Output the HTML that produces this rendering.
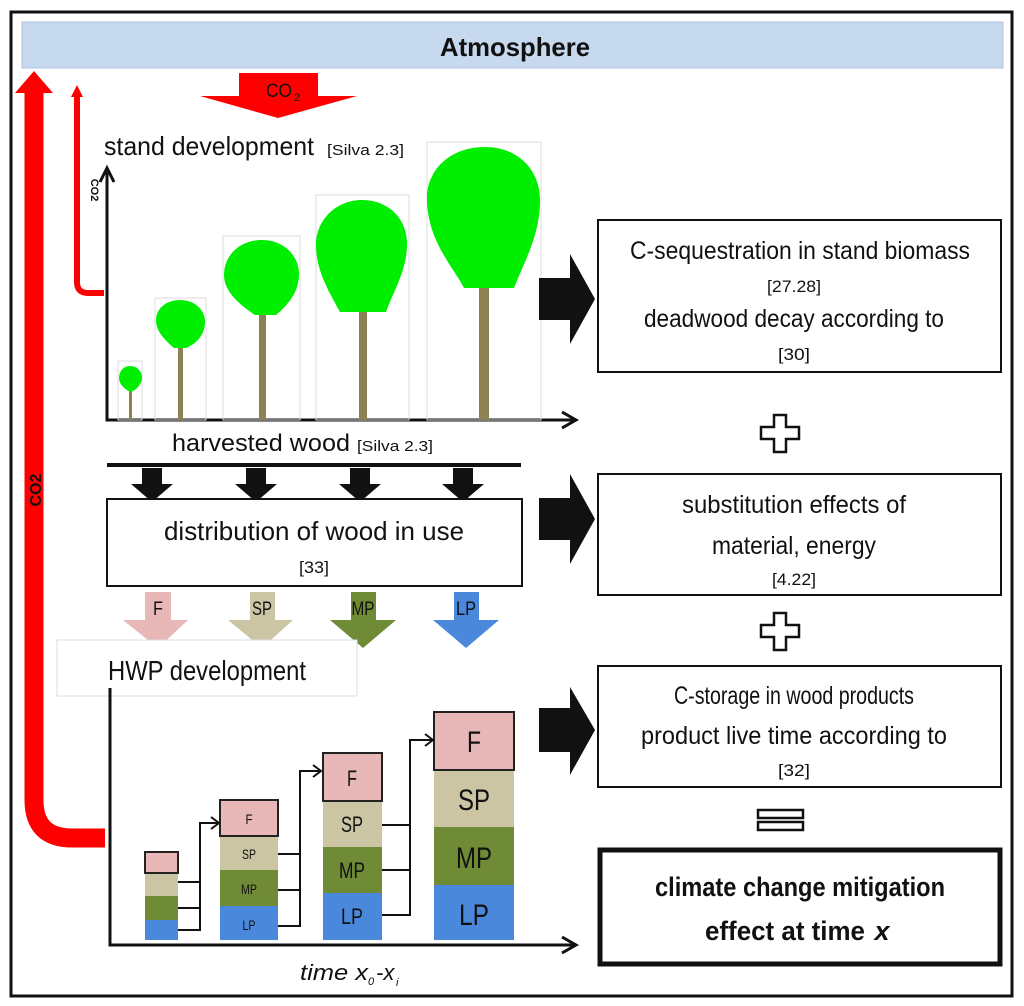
<!DOCTYPE html>
<html><head><meta charset="utf-8"><style>
html,body{margin:0;padding:0;background:#fff;width:1024px;height:1006px;overflow:hidden}
svg{display:block}
text{font-family:"Liberation Sans",sans-serif;fill:#111}
</style></head><body>
<svg width="1024" height="1006" viewBox="0 0 1024 1006" xmlns="http://www.w3.org/2000/svg">
<rect x="11" y="12" width="1001" height="984" fill="#fff" stroke="#111" stroke-width="3"/>
<rect x="22" y="22" width="981" height="46" fill="#c6d9ee" stroke="#b0c4dc" stroke-width="1"/>
<text x="515" y="56" font-size="26" font-weight="bold" text-anchor="middle" textLength="150" lengthAdjust="spacingAndGlyphs">Atmosphere</text>

<polygon points="239,73 318,73 318,96 357,96 278,118 200,96 239,96" fill="#f00"/>
<text x="279" y="97" font-size="19" text-anchor="middle" textLength="26" lengthAdjust="spacingAndGlyphs">CO</text>
<text x="294" y="101" font-size="11">2</text>

<path d="M34,90 V800 Q34,838 72,838 H105" fill="none" stroke="#f00" stroke-width="19"/>
<polygon points="15,93 34,71 53,93" fill="#f00"/>
<text transform="translate(41,490) rotate(-90)" font-size="16" font-weight="bold" text-anchor="middle">CO2</text>

<path d="M77,95 V282 Q77,293 88,293 H104" fill="none" stroke="#f00" stroke-width="6"/>
<polygon points="71,97 77,85 83,97" fill="#f00"/>
<text transform="translate(91,190) rotate(90)" font-size="11" font-weight="bold" text-anchor="middle">CO2</text>

<text x="104" y="155" font-size="26" textLength="210" lengthAdjust="spacingAndGlyphs">stand development</text>
<text x="327" y="155" font-size="15" textLength="77" lengthAdjust="spacingAndGlyphs">[Silva 2.3]</text>
<path d="M107,170 V420 H574" fill="none" stroke="#111" stroke-width="3"/>
<path d="M100,182 L107,168 L114,182" fill="none" stroke="#111" stroke-width="3"/>
<path d="M562,412 L576,420 L562,428" fill="none" stroke="#111" stroke-width="3"/>

<g stroke="#ddd" stroke-width="1" fill="none">
<rect x="118" y="361" width="24" height="59"/>
<rect x="155" y="298" width="51" height="122"/>
<rect x="223" y="236" width="77" height="184"/>
<rect x="316" y="195" width="93" height="225"/>
<rect x="427" y="142" width="114" height="278"/>
</g>
<g fill="#8c8355">
<rect x="129" y="385" width="3" height="35"/>
<rect x="178" y="340" width="5" height="80"/>
<rect x="259" y="310" width="7" height="110"/>
<rect x="359" y="300" width="8" height="120"/>
<rect x="479" y="280" width="10" height="140"/>
</g>
<g fill="#00ee00">
<path d="M130,366 C138,366 142,372 142,378 C142,384 136,390 131,392 C125,390 119,384 119,378 C119,372 123,366 130,366Z"/>
<path d="M180,300 C195,300 205,310 205,322 C205,335 196,344 186,348 L174,348 C165,340 156,332 156,320 C156,308 167,300 180,300Z"/>
<path d="M262,240 C284,240 299,256 299,274 C299,292 288,305 276,315 L255,315 C240,305 224,292 224,275 C224,255 240,240 262,240Z"/>
<path d="M362,200 C388,200 407,218 407,244 C407,270 394,290 386,312 L340,312 C328,290 316,270 316,245 C316,220 336,200 362,200Z"/>
<path d="M485,147 C518,147 540,170 540,200 C540,235 525,260 514,288 L464,288 C452,265 427,240 427,198 C427,170 450,147 485,147Z"/>
</g>

<text x="172" y="451" font-size="24" textLength="178" lengthAdjust="spacingAndGlyphs">harvested wood</text>
<text x="357" y="451" font-size="15" textLength="76" lengthAdjust="spacingAndGlyphs">[Silva 2.3]</text>
<line x1="107" y1="465" x2="521" y2="465" stroke="#111" stroke-width="4"/>
<g fill="#111">
<polygon points="142,468 162,468 162,484 173,484 152,502 131,484 142,484"/>
<polygon points="246,468 266,468 266,484 277,484 256,502 235,484 246,484"/>
<polygon points="350,468 370,468 370,484 381,484 360,502 339,484 350,484"/>
<polygon points="453,468 473,468 473,484 484,484 463,502 442,484 453,484"/>
</g>
<rect x="107" y="499" width="415" height="87" fill="#fff" stroke="#111" stroke-width="2"/>
<text x="314" y="540" font-size="26" text-anchor="middle" textLength="300" lengthAdjust="spacingAndGlyphs">distribution of wood in use</text>
<text x="314" y="573" font-size="17" text-anchor="middle" textLength="30" lengthAdjust="spacingAndGlyphs">[33]</text>

<polygon points="145,592 171,592 171,620 188,620 158,648 123,620 145,620" fill="#e8b7b7"/>
<polygon points="250,592 275,592 275,620 293,620 262,648 228,620 250,620" fill="#cbc5a3"/>
<polygon points="351,592 376,592 376,620 396,620 363,648 330,620 351,620" fill="#6f8b35"/>
<polygon points="454,592 479,592 479,620 499,620 466,648 433,620 454,620" fill="#4a88dc"/>
<text x="158" y="615" font-size="19" text-anchor="middle" textLength="10" lengthAdjust="spacingAndGlyphs">F</text>
<text x="262" y="615" font-size="19" text-anchor="middle" textLength="20" lengthAdjust="spacingAndGlyphs">SP</text>
<text x="363" y="615" font-size="19" text-anchor="middle" textLength="23" lengthAdjust="spacingAndGlyphs">MP</text>
<text x="466" y="615" font-size="19" text-anchor="middle" textLength="20" lengthAdjust="spacingAndGlyphs">LP</text>

<rect x="57" y="640" width="300" height="56" fill="#fff" stroke="#ddd" stroke-width="1"/>
<text x="108" y="680" font-size="28" textLength="198" lengthAdjust="spacingAndGlyphs">HWP development</text>
<path d="M110,688 V945 H574" fill="none" stroke="#111" stroke-width="3"/>
<path d="M562,937 L576,945 L562,953" fill="none" stroke="#111" stroke-width="3"/>

<rect x="145" y="873" width="33" height="23" fill="#cbc5a3"/>
<rect x="145" y="896" width="33" height="24" fill="#6f8b35"/>
<rect x="145" y="920" width="33" height="20" fill="#4a88dc"/>
<rect x="145" y="852" width="33" height="21" fill="#e8b7b7" stroke="#222" stroke-width="2"/>

<rect x="220" y="836" width="58" height="34" fill="#cbc5a3"/>
<rect x="220" y="870" width="58" height="36" fill="#6f8b35"/>
<rect x="220" y="906" width="58" height="34" fill="#4a88dc"/>
<rect x="220" y="800" width="58" height="36" fill="#e8b7b7" stroke="#222" stroke-width="2"/>

<rect x="323" y="801" width="59" height="46" fill="#cbc5a3"/>
<rect x="323" y="847" width="59" height="46" fill="#6f8b35"/>
<rect x="323" y="893" width="59" height="47" fill="#4a88dc"/>
<rect x="323" y="753" width="59" height="48" fill="#e8b7b7" stroke="#222" stroke-width="2"/>

<rect x="434" y="770" width="80" height="57" fill="#cbc5a3"/>
<rect x="434" y="827" width="80" height="58" fill="#6f8b35"/>
<rect x="434" y="885" width="80" height="55" fill="#4a88dc"/>
<rect x="434" y="712" width="80" height="58" fill="#e8b7b7" stroke="#222" stroke-width="2"/>

<g font-size="14" text-anchor="middle">
<text x="249" y="824" textLength="7" lengthAdjust="spacingAndGlyphs">F</text>
<text x="249" y="859" textLength="14" lengthAdjust="spacingAndGlyphs">SP</text>
<text x="249" y="894" textLength="16" lengthAdjust="spacingAndGlyphs">MP</text>
<text x="249" y="930" textLength="13" lengthAdjust="spacingAndGlyphs">LP</text>
</g>
<g font-size="22" text-anchor="middle">
<text x="352" y="786" textLength="10" lengthAdjust="spacingAndGlyphs">F</text>
<text x="352" y="832" textLength="22" lengthAdjust="spacingAndGlyphs">SP</text>
<text x="352" y="878" textLength="26" lengthAdjust="spacingAndGlyphs">MP</text>
<text x="352" y="924" textLength="22" lengthAdjust="spacingAndGlyphs">LP</text>
</g>
<g font-size="30" text-anchor="middle">
<text x="474" y="752" textLength="14" lengthAdjust="spacingAndGlyphs">F</text>
<text x="474" y="810" textLength="32" lengthAdjust="spacingAndGlyphs">SP</text>
<text x="474" y="868" textLength="36" lengthAdjust="spacingAndGlyphs">MP</text>
<text x="474" y="925" textLength="30" lengthAdjust="spacingAndGlyphs">LP</text>
</g>

<g fill="none" stroke="#111" stroke-width="2">
<path d="M178,882 H200 M178,908 H200 M178,930 H200 V823 H218"/>
<path d="M211,817 L219,823 L211,829"/>
<path d="M278,854 H300 M278,890 H300 M278,926 H300 V771 H320"/>
<path d="M313,765 L321,771 L313,777"/>
<path d="M382,825 H410 M382,870 H410 M382,915 H410 V740 H432"/>
<path d="M425,734 L433,740 L425,746"/>
</g>
<text x="300" y="980" font-size="22" font-style="italic" textLength="68" lengthAdjust="spacingAndGlyphs">time x</text>
<text x="368" y="985" font-size="11" font-style="italic">0</text>
<text x="376" y="980" font-size="22" font-style="italic">-x</text>
<text x="396" y="986" font-size="11" font-style="italic">i</text>

<g fill="#111">
<polygon points="539,278 570,278 570,254 595,299 570,344 570,320 539,320"/>
<polygon points="539,498 570,498 570,474 595,519 570,564 570,540 539,540"/>
<polygon points="539,708 570,708 570,687 595,730 570,775 570,752 539,752"/>
</g>
<g fill="#fff" stroke="#111" stroke-width="2">
<rect x="598" y="220" width="403" height="152"/>
<rect x="598" y="474" width="403" height="121"/>
<rect x="598" y="666" width="403" height="121"/>
</g>
<rect x="600" y="850" width="400" height="114" fill="#fff" stroke="#111" stroke-width="5"/>
<g text-anchor="middle">
<text x="800" y="259" font-size="25" textLength="340" lengthAdjust="spacingAndGlyphs">C-sequestration in stand biomass</text>
<text x="794" y="292" font-size="17" textLength="54" lengthAdjust="spacingAndGlyphs">[27.28]</text>
<text x="794" y="327" font-size="25" textLength="300" lengthAdjust="spacingAndGlyphs">deadwood decay according to</text>
<text x="794" y="360" font-size="17" textLength="32" lengthAdjust="spacingAndGlyphs">[30]</text>
<text x="794" y="513" font-size="25" textLength="224" lengthAdjust="spacingAndGlyphs">substitution effects of</text>
<text x="794" y="554" font-size="25" textLength="164" lengthAdjust="spacingAndGlyphs">material, energy</text>
<text x="794" y="585" font-size="17" textLength="44" lengthAdjust="spacingAndGlyphs">[4.22]</text>
<text x="794" y="704" font-size="25" textLength="240" lengthAdjust="spacingAndGlyphs">C-storage in wood products</text>
<text x="794" y="744" font-size="25" textLength="306" lengthAdjust="spacingAndGlyphs">product live time according to</text>
<text x="794" y="776" font-size="17" textLength="32" lengthAdjust="spacingAndGlyphs">[32]</text>
<text x="800" y="896" font-size="27" font-weight="bold" textLength="290" lengthAdjust="spacingAndGlyphs">climate change mitigation</text>
<text x="785" y="940" font-size="27" font-weight="bold" textLength="160" lengthAdjust="spacingAndGlyphs">effect at time</text>
<text x="882" y="940" font-size="27" font-weight="bold" font-style="italic">x</text>
</g>
<g fill="#fff" stroke="#111" stroke-width="2.5">
<polygon points="774,415 786,415 786,427 799,427 799,439 786,439 786,452 774,452 774,439 761,439 761,427 774,427"/>
<polygon points="774,613 786,613 786,625 799,625 799,637 786,637 786,650 774,650 774,637 761,637 761,625 774,625"/>
<rect x="758" y="810" width="45" height="8"/>
<rect x="758" y="822" width="45" height="8"/>
</g>
</svg>
</body></html>
